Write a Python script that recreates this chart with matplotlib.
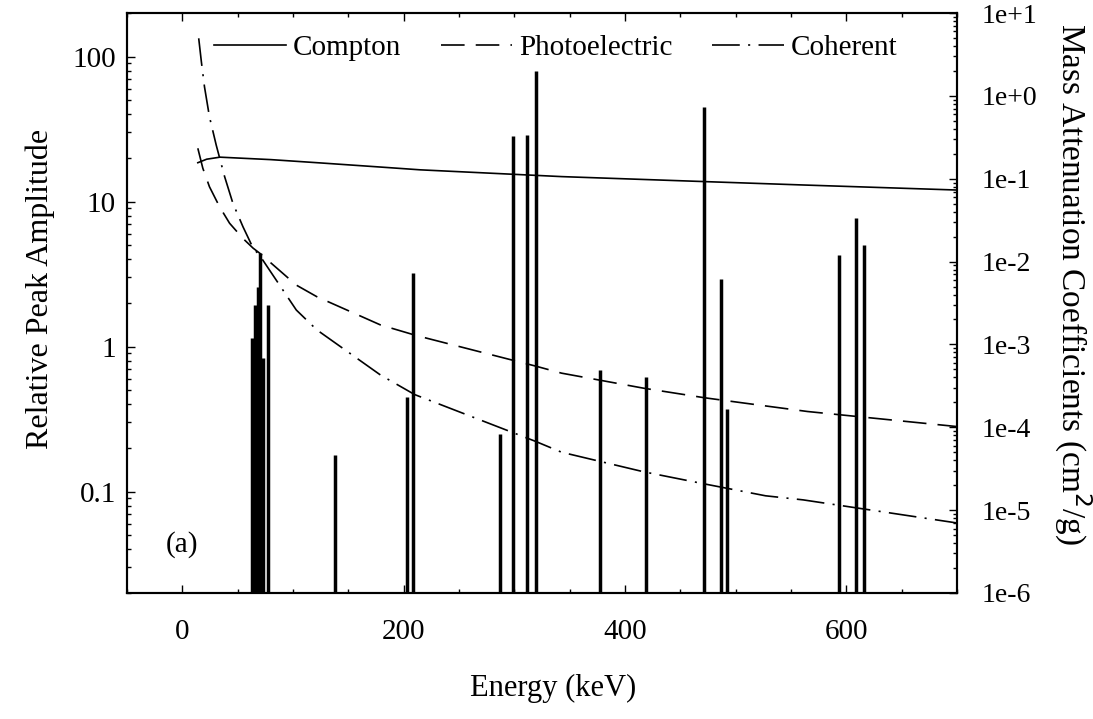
import numpy as np
import matplotlib.pyplot as plt
from matplotlib.ticker import FixedLocator, FuncFormatter, LogLocator, NullFormatter, MultipleLocator

plt.rcParams['font.family'] = ['Liberation Serif', 'DejaVu Serif']
plt.rcParams['lines.scale_dashes'] = False

# gamma peaks (keV, relative amplitude)
peak_energy = [63, 65.5, 68, 70.5, 73, 77, 137.5, 203, 208, 287, 299, 311, 320,
               377, 419, 471, 487, 492, 593, 609, 616]
peak_amp = [1.14, 1.94, 2.59, 4.4, 0.83, 1.95, 0.18, 0.45, 3.2, 0.25, 28.5, 28.8, 80,
            0.69, 0.62, 45, 2.94, 0.37, 4.3, 7.7, 5.0]

# mass attenuation coefficients (cm^2/g)
compton_E = [14, 22, 34, 80, 125, 180, 215, 343, 475, 561, 700]
compton_mu = [0.156, 0.172, 0.182, 0.17, 0.155, 0.138, 0.128, 0.106, 0.092, 0.084, 0.073]

photo_E = [14, 18.5, 24.5, 33.6, 42.7, 54.8, 64, 70, 103, 121.5, 179, 211.5, 318.7,
           342.7, 417, 472, 527, 565, 700]
photo_mu = [0.233, 0.134, 0.080, 0.046, 0.029, 0.019, 0.0145, 0.0126, 0.0052, 0.00377,
            0.00172, 0.00128, 0.00055, 0.00045, 0.000296, 0.000227, 0.000181, 0.000155,
            0.000102]

coh_E = [14.8, 17.2, 20, 24.5, 30.6, 38.2, 45.7, 54.8, 64, 70, 103, 121.5, 179, 210,
         318.7, 342.7, 417, 472, 527, 561, 700]
coh_mu = [4.95, 2.58, 1.29, 0.56, 0.255, 0.106, 0.0505, 0.0263, 0.0145, 0.0118, 0.0026,
          0.0015, 0.000428, 0.000248, 6.8e-5, 5.0e-5, 2.9e-5, 2.07e-5, 1.49e-5, 1.33e-5,
          7.0e-6]

y_bottom = 0.02

fig = plt.figure(figsize=(10.93, 7.19), dpi=100)
ax = fig.add_axes([127/1093, 1-593/719, 830/1093, 580/719])
ax.set_yscale('log')
ax.vlines(peak_energy, y_bottom, peak_amp, color='k', lw=2.5)
ax.set_xlim(-50, 700)
ax.set_ylim(y_bottom, 200)

ax2 = ax.twinx()
ax2.set_yscale('log')
ax2.set_ylim(1e-6, 10)
l1, = ax2.plot(compton_E, compton_mu, color='k', lw=1.2, label='Compton')
l2, = ax2.plot(photo_E, photo_mu, color='k', lw=1.2, dashes=(17, 8), label='Photoelectric')
l3, = ax2.plot(coh_E, coh_mu, color='k', lw=1.2, dashes=(20, 6, 1.5, 6), label='Coherent')

fs = 21
ax.xaxis.set_major_locator(FixedLocator([0, 200, 400, 600]))
ax.xaxis.set_minor_locator(MultipleLocator(50))
ax.yaxis.set_major_locator(FixedLocator([0.1, 1, 10, 100]))
ax.yaxis.set_major_formatter(FuncFormatter(lambda v, p: '%g' % v))
ax.yaxis.set_minor_locator(LogLocator(subs=np.arange(2, 10)))
ax.yaxis.set_minor_formatter(NullFormatter())

ax2.yaxis.set_major_locator(FixedLocator([10.0**k for k in range(-6, 2)]))
ax2.yaxis.set_major_formatter(FuncFormatter(lambda v, p: '1e%+d' % round(np.log10(v))))
ax2.yaxis.set_minor_locator(LogLocator(subs=np.arange(2, 10), numticks=20))
ax2.yaxis.set_minor_formatter(NullFormatter())

ax.tick_params(which='both', direction='in', top=True, right=False, width=1.0)
ax.tick_params(which='major', length=6, labelsize=fs)
ax.tick_params(which='minor', length=3)
ax.tick_params(axis='x', pad=19)
ax.tick_params(axis='y', pad=8)
ax2.tick_params(which='both', direction='in', width=1.0)
ax2.tick_params(which='major', length=6, labelsize=fs - 1, pad=18)
ax2.tick_params(which='minor', length=3)
for a in (ax, ax2):
    for s in a.spines.values():
        s.set_linewidth(1.5)

fig.text(40/1093, 1-289/719, 'Relative Peak Amplitude', rotation=90, ha='center', va='center', fontsize=23)
fig.text(1073/1093, 1-284/719, 'Mass Attenuation Coefficients (cm$^2$/g)', rotation=270,
         ha='center', va='center', fontsize=24)
fig.text(553/1093, 1-688/719, 'Energy (keV)', ha='center', va='center', fontsize=22)
ax.text(0, 0.043, '(a)', ha='center', va='center', fontsize=fs)

ax2.legend(handles=[l1, l2, l3], loc='center', bbox_to_anchor=(556/1093, 1-48/719),
           bbox_transform=fig.transFigure, ncol=3, frameon=False, fontsize=fs,
           handlelength=2.45, handletextpad=0.25, columnspacing=1.35, borderpad=0)

fig.savefig('out.png', dpi=100)
